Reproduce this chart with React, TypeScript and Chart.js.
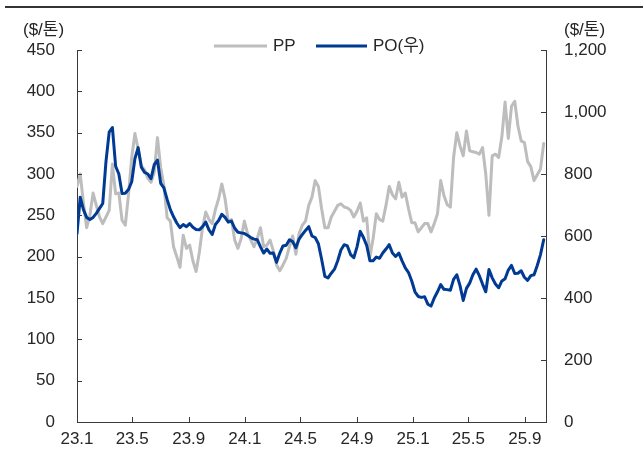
import React, { useEffect, useRef } from "react";
import { Chart, registerables } from "chart.js";

Chart.register(...registerables);

// ---- data ----
const START_UTC = Date.UTC(2023, 0, 1); // first weekly observation
const STEP_DAYS = 7;

const X_TICK_LABELS = ["23.1", "23.5", "23.9", "24.1", "24.5", "24.9", "25.1", "25.5", "25.9"];

// PP ($/톤, left axis), weekly
const PP = [
  285, 300, 265, 235, 250, 277, 262, 248, 240, 248,
  256, 312, 276, 277, 244, 238, 275, 320, 349, 330,
  310, 305, 295, 290, 302, 344, 308, 286, 247, 243,
  212, 200, 187, 226, 210, 214, 195, 182, 205, 235,
  254, 245, 240, 257, 270, 288, 270, 242, 245, 220,
  210, 222, 243, 228, 220, 212, 222, 235, 212, 214,
  220, 207, 190, 183, 190, 198, 212, 225, 203, 228,
  238, 243, 262, 272, 292, 285, 258, 235, 235, 248,
  255, 262, 264, 260, 259, 256, 248, 255, 265, 243,
  247, 200, 222, 252, 245, 243, 262, 285, 275, 270,
  290, 272, 277, 258, 241, 241, 230, 235, 240, 240,
  230, 240, 252, 292, 274, 263, 260, 320, 350, 334,
  322, 352, 328, 327, 326, 324, 332, 300, 250, 322,
  324, 320, 345, 387, 343, 382, 388, 358, 340, 338,
  315, 309, 292, 299, 306, 337,
];

// PO ($/톤, right axis), weekly
const PO = [
  608, 725, 685, 660, 653, 660, 673, 689, 705, 840,
  935, 950, 825, 800, 737, 738, 750, 775, 850, 885,
  822, 805, 800, 785, 830, 845, 770, 755, 718, 685,
  662, 642, 627, 637, 630, 640, 628, 621, 620, 630,
  645, 620, 605, 637, 650, 670, 660, 645, 648, 625,
  612, 610, 608, 602, 595, 590, 588, 565, 545, 558,
  544, 545, 515, 545, 568, 570, 588, 582, 562, 590,
  605, 618, 630, 600, 595, 575, 525, 470, 465, 480,
  493, 520, 555, 572, 568, 540, 530, 565, 615, 595,
  570, 520, 520, 532, 528, 545, 558, 572, 545, 534,
  545, 520, 497, 482, 455, 420, 405, 402, 404, 380,
  374, 400, 420, 443, 428, 427, 425, 460, 475, 440,
  392, 431, 448, 475, 493, 472, 445, 420, 492, 465,
  445, 433, 455, 462, 490, 505, 479, 480, 488, 467,
  457, 472, 475, 505, 540, 588,
];

const LEFT_MIN = 0, LEFT_MAX = 450, LEFT_STEP = 50;
const RIGHT_MIN = 0, RIGHT_MAX = 1200, RIGHT_STEP = 200;
const UNIT_LABEL = "($/톤)";
const SERIES_NAMES = ["PP", "PO(우)"];

// ---- styles ----
const GRAY = "#bdbdbd";
const BLUE = "#003a92";
const AXIS = "#3a3a3a";
const TEXT = "#262626";
const FONT_FAMILY = '"Liberation Sans", Arial, "Noto Sans CJK KR", sans-serif';
const FONT_SIZE = 17;

const DAY_MS = 86400000;
const labelToDay = (lab: string) => {
  const [yy, mm] = lab.split(".").map(Number);
  return (Date.UTC(2000 + yy, mm - 1, 1) - START_UTC) / DAY_MS;
};
const X_TICK_DAYS = X_TICK_LABELS.map(labelToDay);

const toPoints = (arr: number[]) => arr.map((v, i) => ({ x: i * STEP_DAYS, y: v }));

const decorPlugin = {
  id: "decor",
  afterDraw(chart: any) {
    const { ctx, chartArea } = chart;
    const { left, right, top, bottom } = chartArea;
    ctx.save();
    // top rule
    ctx.fillStyle = "#333333";
    ctx.fillRect(5, 6, 638, 2);

    // inward tick marks
    ctx.strokeStyle = AXIS;
    ctx.lineWidth = 1;
    ctx.beginPath();
    const xs = chart.scales.x;
    xs.ticks.forEach((t: any) => {
      const px = Math.round(xs.getPixelForValue(t.value)) + 0.5;
      ctx.moveTo(px, bottom);
      ctx.lineTo(px, bottom - 5);
    });
    const ys = chart.scales.y;
    ys.ticks.forEach((t: any) => {
      const py = Math.round(ys.getPixelForValue(t.value)) + 0.5;
      ctx.moveTo(left, py);
      ctx.lineTo(left + 5, py);
    });
    const y1 = chart.scales.y1;
    y1.ticks.forEach((t: any) => {
      const py = Math.round(y1.getPixelForValue(t.value)) + 0.5;
      ctx.moveTo(right, py);
      ctx.lineTo(right - 5, py);
    });
    ctx.stroke();

    // unit labels
    ctx.fillStyle = TEXT;
    ctx.font = `${FONT_SIZE}px ${FONT_FAMILY}`;
    ctx.textBaseline = "middle";
    ctx.textAlign = "left";
    ctx.fillText(UNIT_LABEL, 23, 30);
    ctx.fillText(UNIT_LABEL, 564, 30);

    // legend
    const legendY = 46;
    const items = [
      { name: SERIES_NAMES[0], color: GRAY, x0: 214, x1: 267 },
      { name: SERIES_NAMES[1], color: BLUE, x0: 316, x1: 367 },
    ];
    items.forEach((it) => {
      ctx.strokeStyle = it.color;
      ctx.lineWidth = 3;
      ctx.beginPath();
      ctx.moveTo(it.x0, legendY);
      ctx.lineTo(it.x1, legendY);
      ctx.stroke();
      ctx.fillStyle = TEXT;
      ctx.fillText(it.name, it.x1 + 6, legendY);
    });
    ctx.restore();
  },
};

export default function App() {
  const ref = useRef<HTMLCanvasElement | null>(null);

  useEffect(() => {
    document.body.style.margin = "0";
    if (!ref.current) return;
    const lastDay = (PP.length - 1) * STEP_DAYS;
    const tickFont = { family: FONT_FAMILY, size: FONT_SIZE };
    const chart = new Chart(ref.current, {
      type: "line",
      data: {
        datasets: [
          {
            label: SERIES_NAMES[0],
            data: toPoints(PP),
            borderColor: GRAY,
            backgroundColor: GRAY,
            borderWidth: 3,
            pointRadius: 0,
            tension: 0,
            yAxisID: "y",
            order: 2,
          },
          {
            label: SERIES_NAMES[1],
            data: toPoints(PO),
            borderColor: BLUE,
            backgroundColor: BLUE,
            borderWidth: 3,
            pointRadius: 0,
            tension: 0,
            yAxisID: "y1",
            order: 1,
          },
        ],
      },
      options: {
        animation: false,
        responsive: false,
        devicePixelRatio: 1,
        layout: { padding: { top: 50, left: 0, right: 0, bottom: 0 } },
        plugins: { legend: { display: false }, tooltip: { enabled: false } },
        elements: { line: { borderJoinStyle: "round", borderCapStyle: "round" } },
        scales: {
          x: {
            type: "linear",
            min: 0,
            max: lastDay + 5,
            grid: { display: false, drawTicks: false },
            border: { display: true, color: AXIS, width: 1 },
            afterBuildTicks: (s: any) => {
              s.ticks = X_TICK_DAYS.map((v) => ({ value: v }));
            },
            afterFit: (s: any) => {
              s.height = 38;
            },
            ticks: {
              color: TEXT,
              font: tickFont,
              padding: 7,
              maxRotation: 0,
              autoSkip: false,
              callback: (v: any) => {
                const idx = X_TICK_DAYS.indexOf(Number(v));
                return idx >= 0 ? X_TICK_LABELS[idx] : "";
              },
            },
          },
          y: {
            type: "linear",
            position: "left",
            min: LEFT_MIN,
            max: LEFT_MAX,
            grid: { display: false, drawTicks: false },
            border: { display: true, color: AXIS, width: 1 },
            afterFit: (s: any) => {
              s.width = 77;
            },
            ticks: { stepSize: LEFT_STEP, color: TEXT, font: tickFont, padding: 22 },
          },
          y1: {
            type: "linear",
            position: "right",
            min: RIGHT_MIN,
            max: RIGHT_MAX,
            grid: { display: false, drawTicks: false },
            border: { display: true, color: AXIS, width: 1 },
            afterFit: (s: any) => {
              s.width = 97;
            },
            ticks: {
              stepSize: RIGHT_STEP,
              color: TEXT,
              font: tickFont,
              padding: 18,
              callback: (v: any) => Number(v).toLocaleString("en-US"),
            },
          },
        },
      },
      plugins: [decorPlugin],
    });
    return () => chart.destroy();
  }, []);

  return (
    <div style={{ width: 643, height: 460, background: "#fff" }}>
      <canvas ref={ref} width={643} height={460} style={{ display: "block" }} />
    </div>
  );
}
